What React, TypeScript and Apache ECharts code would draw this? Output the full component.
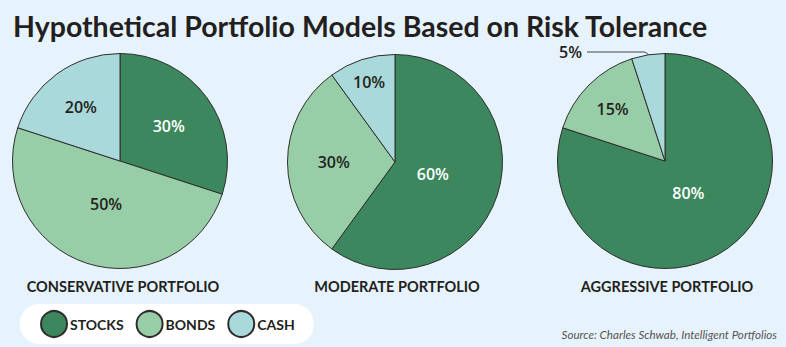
import React, { useEffect, useRef } from "react";
import * as echarts from "echarts";

const categories = ["STOCKS", "BONDS", "CASH"];
const conservative = [30, 50, 20];
const moderate = [60, 30, 10];
const aggressive = [80, 15, 5];
const portfolioNames = ["CONSERVATIVE PORTFOLIO", "MODERATE PORTFOLIO", "AGGRESSIVE PORTFOLIO"];
const titleText = "Hypothetical Portfolio Models Based on Risk Tolerance";
const sourceText = "Source: Charles Schwab, Intelligent Portfolios";

const colors = ["#3c875d", "#98cea7", "#a9d9da"];
const labelColors = ["#ffffff", "#231f20", "#231f20"];
// radial fraction for each label (per pie, per slice)
const labelRadius = [
  [0.56, 0.42, 0.62],
  [0.37, 0.57, 0.78],
  [0.37, 0.69, 0],
];
const centers: [number, number][] = [
  [120, 161],
  [395, 162],
  [665, 161],
];
const R = 107.5;
const FONT = "Lato, 'Noto Sans', sans-serif";
const NUMFONT = "'Open Sans', Lato, sans-serif";

export default function App() {
  const ref = useRef<HTMLDivElement>(null);
  useEffect(() => {
    const chart = echarts.init(ref.current!, null, { renderer: "svg" });
    const sets = [conservative, moderate, aggressive];
    const series = sets.map((vals, si) => {
      const total = vals.reduce((a, b) => a + b, 0);
      return {
        type: "pie",
        center: centers[si],
        radius: [0, R],
        startAngle: 90,
        clockwise: true,
        silent: true,
        avoidLabelOverlap: false,
        itemStyle: { borderColor: "#2e2e2e", borderWidth: 1 },
        label: {
          show: true,
          position: "inside",
          formatter: "{c}%",
          fontFamily: NUMFONT,
          fontWeight: 600,
          fontSize: 16,
        },
        labelLine: { show: false },
        labelLayout: (p: any) => {
          const i = p.dataIndex;
          let before = 0;
          for (let k = 0; k < i; k++) before += vals[k];
          const mid = ((before + vals[i] / 2) / total) * Math.PI * 2;
          const f = labelRadius[si][i];
          return {
            x: centers[si][0] + Math.sin(mid) * R * f,
            y: centers[si][1] - Math.cos(mid) * R * f,
            align: "center",
            verticalAlign: "middle",
          };
        },
        data: vals.map((v, i) => ({
          name: categories[i],
          value: v,
          itemStyle: { color: colors[i] },
          label: { color: labelColors[i], show: labelRadius[si][i] > 0 },
        })),
      };
    });

    const option: any = {
      animation: false,
      backgroundColor: "#e7f3fc",
      title: [
        {
          text: titleText,
          left: 13,
          top: 11,
          padding: 0,
          textStyle: {
            fontFamily: FONT,
            fontWeight: "bold",
            fontSize: 28.5,
            color: "#231f20",
          },
        },
        ...portfolioNames.map((n, i) => ({
          text: n,
          left: [123, 397, 667][i],
          top: 279,
          textAlign: "center",
          padding: 0,
          textStyle: { fontFamily: FONT, fontWeight: "bold", fontSize: 14.5, color: "#231f20" },
        })),
        {
          text: sourceText,
          right: 9,
          top: 328,
          padding: 0,
          textStyle: {
            fontFamily: FONT,
            fontStyle: "italic",
            fontWeight: "normal",
            fontSize: 11.6,
            color: "#555555",
          },
        },
      ],
      legend: {
        data: categories,
        left: 20,
        top: 304,
        orient: "horizontal",
        icon: "circle",
        itemWidth: 26,
        itemHeight: 26,
        itemGap: 12,
        backgroundColor: "#ffffff",
        borderRadius: 19,
        padding: [6, 19, 6, 20],
        selectedMode: false,
        textStyle: { fontFamily: FONT, fontWeight: "bold", fontSize: 14, color: "#231f20", padding: [0, 0, 0, -2] },
      },
      series,
      graphic: [
        {
          type: "text",
          left: 559,
          top: 44,
          style: {
            text: aggressive[2] + "%",
            fontFamily: NUMFONT,
            fontWeight: 600,
            fontSize: 16,
            fill: "#231f20",
          },
        },
        {
          type: "polyline",
          shape: { points: [[587, 52], [645, 52], [649, 55], [650, 63]] },
          style: { stroke: "#444", lineWidth: 1, fill: null },
        },
        {
          type: "polyline",
          shape: { points: [[646, 59], [650, 63.5], [654, 59]] },
          style: { stroke: "#444", lineWidth: 1, fill: null },
        },
      ],
    };
    chart.setOption(option);
    return () => chart.dispose();
  }, []);
  return (
    <div
      ref={ref}
      style={{ position: "fixed", left: 0, top: 0, width: 786, height: 347 }}
    />
  );
}
